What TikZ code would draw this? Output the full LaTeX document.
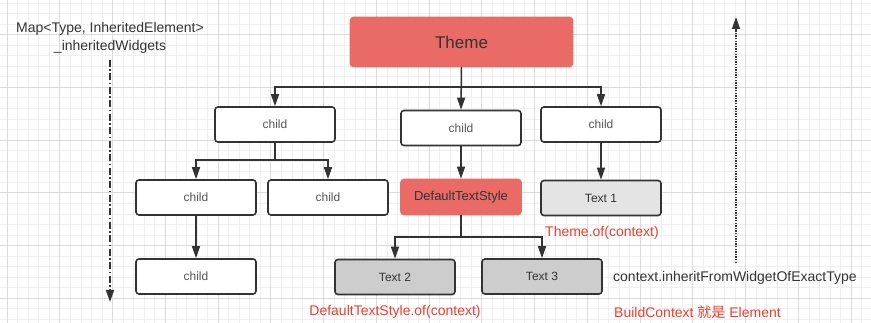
\documentclass[tikz,border=0pt]{standalone}
\usepackage{fontspec}
\setmainfont{Liberation Sans}
\newfontfamily\cjk{Noto Sans CJK SC}
\usetikzlibrary{arrows.meta}
\definecolor{ink}{HTML}{333333}
\definecolor{softink}{HTML}{555555}
\definecolor{redfill}{HTML}{EA6B66}
\definecolor{redtxt}{HTML}{E8402F}
\definecolor{gLight}{HTML}{E4E4E4}
\definecolor{gDark}{HTML}{CDCDCD}
\definecolor{gridminor}{HTML}{EFEFEF}
\definecolor{gridmajor}{HTML}{DADADA}
\begin{document}
\begin{tikzpicture}[x=1pt,y=-1pt,
  box/.style={draw=ink, line width=1.6pt, rounded corners=3pt, minimum width=120pt,
    minimum height=35pt, inner sep=0pt, font=\fontsize{12}{14}\selectfont, text=ink},
  whitebox/.style={box, fill=white, text=softink},
  redbox/.style={box, fill=redfill, draw=redfill},
  lgray/.style={box, fill=gLight},
  dgray/.style={box, fill=gDark},
  arr/.style={draw=ink, line width=1.5pt, -{Triangle[width=8pt,length=12pt]}},
  redlabel/.style={text=redtxt, font=\fontsize{14}{16}\selectfont, inner sep=0pt},
  darklabel/.style={text=ink, font=\fontsize{14}{16}\selectfont, inner sep=0pt},
]
\useasboundingbox (0,0) rectangle (871,323);
\fill[white] (0,0) rectangle (871,323);
% grid
\foreach \k in {-1,...,83} {
  \draw[gridminor, line width=0.6pt] ({7+10.55*\k},0) -- ({7+10.55*\k},323);
}
\foreach \k in {-4,...,31} {
  \draw[gridminor, line width=0.6pt] (0,{34.5+10.55*\k}) -- (871,{34.5+10.55*\k});
}
\foreach \k in {0,...,16} {
  \draw[gridmajor, line width=0.7pt] ({7+52.75*\k},0) -- ({7+52.75*\k},323);
}
\foreach \k in {0,...,5} {
  \draw[gridmajor, line width=0.7pt] (0,{34.5+52.75*\k}) -- (871,{34.5+52.75*\k});
}

% nodes
\node[redbox, minimum width=222pt, minimum height=49pt, font=\fontsize{17}{19}\selectfont] (theme) at (461.5,42) {Theme};
\node[whitebox] (cA) at (275,124.5) {child};
\node[whitebox] (cB) at (461,128) {child};
\node[whitebox] (cC) at (601,124.5) {child};
\node[whitebox] (cD) at (196,197.5) {child};
\node[whitebox] (cE) at (328,197.5) {child};
\node[redbox, font=\fontsize{13}{15}\selectfont] (dts) at (461,197) {DefaultTextStyle};
\node[lgray] (t1) at (601,198) {Text 1};
\node[whitebox] (cF) at (196,276.5) {child};
\node[dgray] (t2) at (395,277) {Text 2};
\node[dgray] (t3) at (542,276.5) {Text 3};

% junctions
\coordinate (j1) at (461.5,87);
\coordinate (j2) at (275,160);
\coordinate (j3) at (461,237);

% connectors
\draw[arr] (theme.south) -- (j1) -| (cA.north);
\draw[arr] (theme.south) -- (cB.north);
\draw[arr] (j1) -| (cC.north);
\draw[arr] (cA.south) -- (j2) -| (cD.north);
\draw[arr] (j2) -| (cE.north);
\draw[arr] (cB.south) -- (dts.north);
\draw[arr] (cC.south) -- (t1.north);
\draw[arr] (cD.south) -- (cF.north);
\draw[arr] (dts.south) -- (j3) -| (t2.north);
\draw[arr] (j3) -| (t3.north);

% labels
\node[darklabel, align=center, font=\fontsize{14}{18}\selectfont] (map) at (110,38) {Map<Type, InheritedElement>\\\_inheritedWidgets};
\coordinate (mapend) at (110,302);
\draw[draw=ink, line width=1.6pt, dash pattern=on 7pt off 2.5pt on 1.5pt off 2.5pt,
  -{Triangle[width=8pt,length=12pt]}] (110,60) -- (mapend);

\node[redlabel] (themeof) at (602,233) {Theme.of(context)};
\node[redlabel] (dtsof) at (395,312) {DefaultTextStyle.of(context)};
\node[darklabel, anchor=west] (ctx) at (613,278) {context.inheritFromWidgetOfExactType};
\node[redlabel, anchor=west] (bc) at (614,312) {BuildContext {\cjk 就是} Element};

\coordinate (upbot) at (736,263);
\coordinate (uptop) at (736,17);
\draw[draw=ink, line width=1.3pt, dash pattern=on 1.3pt off 1.3pt,
  -{Triangle[width=8pt,length=12pt]}] (upbot) -- (uptop);
\end{tikzpicture}
\end{document}
